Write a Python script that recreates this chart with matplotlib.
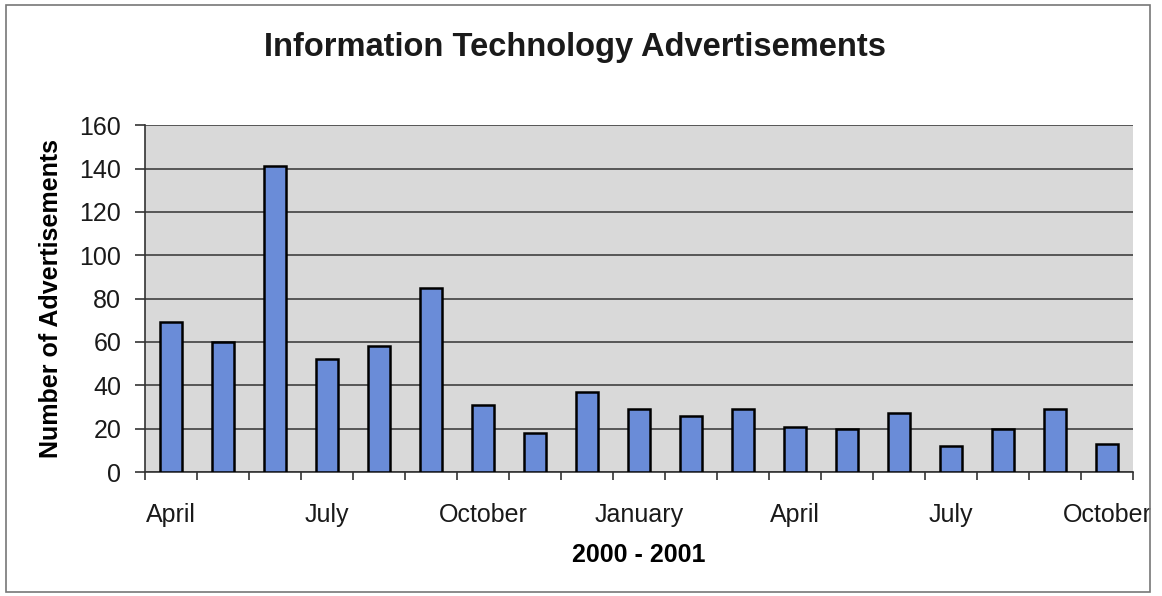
import numpy as np
import matplotlib.pyplot as plt
from matplotlib.patches import Rectangle

months = ['April', 'May', 'June', 'July', 'August', 'September', 'October',
          'November', 'December', 'January', 'February', 'March', 'April',
          'May', 'June', 'July', 'August', 'September', 'October']
adverts = [69, 60, 141, 52, 58, 85, 31, 18, 37, 29, 26, 29, 21, 20, 27, 12, 20, 29, 13]
y_ticks = [0, 20, 40, 60, 80, 100, 120, 140, 160]

plt.rcParams['font.family'] = ['Liberation Sans', 'DejaVu Sans']
plt.rcParams['text.color'] = '#1a1a1a'

fig = plt.figure(figsize=(11.62, 5.96), dpi=100)
ax = fig.add_axes([0.1248, 0.208, 0.8502, 0.582])

x = np.arange(len(adverts))
ax.bar(x, adverts, width=0.42, color='#6a8cd8', edgecolor='black', linewidth=1.8, zorder=3)

ax.set_facecolor('#d9d9d9')
ax.set_xlim(-0.5, len(adverts) - 0.5)
ax.set_ylim(0, 160)
ax.set_yticks(y_ticks)
ax.yaxis.grid(True, color='#333333', linewidth=1.1, zorder=1)
ax.set_axisbelow(True)

# month names every quarter, tick marks between categories
ax.set_xticks(x[::3])
ax.set_xticklabels(months[::3], fontsize=18, color='#1a1a1a')
ax.set_xticks(np.arange(len(adverts) + 1) - 0.5, minor=True)
ax.tick_params(axis='x', which='major', length=0, pad=22)
ax.tick_params(axis='x', which='minor', length=6, width=1.2, direction='out', color='#333333')
ax.tick_params(axis='y', labelsize=18, labelcolor='#1a1a1a', length=7.2, width=1.2,
               color='#333333', pad=10)

for side in ['top', 'right']:
    ax.spines[side].set_visible(False)
ax.spines['left'].set_color('#333333')
ax.spines['bottom'].set_color('#333333')
ax.spines['left'].set_linewidth(1.2)
ax.spines['bottom'].set_linewidth(1.2)

ax.set_ylabel('Number of Advertisements', fontsize=18, fontweight='bold', labelpad=12)
ax.set_xlabel('2000 - 2001', fontsize=18, fontweight='bold', labelpad=12)
fig.text(0.495, 0.92, 'Information Technology Advertisements', ha='center', va='center',
         fontsize=23.5, fontweight='bold')

# outer chart border
fig.patches.append(Rectangle((0.005, 0.006), 0.985, 0.985, transform=fig.transFigure,
                             fill=False, edgecolor='#777777', linewidth=1.2))

fig.savefig('out.png', dpi=100)
